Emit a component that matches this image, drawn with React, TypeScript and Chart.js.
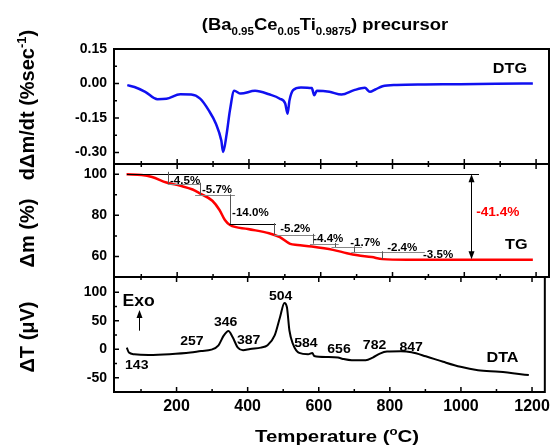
import React, { useEffect, useRef } from "react";
import { Chart, registerables } from "chart.js";
Chart.register(...registerables);

const W = 555;
const H = 448;
const FAMILY = "'Liberation Sans', Arial, Helvetica, sans-serif";

// ---------- shared x axis ----------
const X_MIN = 24;
const X_MAX = 1236;
const xMajor = [200, 400, 600, 800, 1000, 1200];
const xMinor = [100, 300, 500, 700, 900, 1100];

// ---------- DTG panel ----------
const dtgT = [61, 81, 111, 145, 170, 209, 239, 264, 288, 308, 323, 328, 338, 347, 359, 377, 417, 456, 486, 501, 507.5, 513, 523, 545, 575, 582, 589, 624, 658, 693, 723, 737, 752, 772, 812, 890, 989, 1088, 1191];
const dtgV = [-0.007, -0.015, -0.036, -0.068, -0.066, -0.047, -0.048, -0.066, -0.117, -0.175, -0.248, -0.298, -0.218, -0.117, -0.032, -0.044, -0.032, -0.047, -0.066, -0.087, -0.131, -0.073, -0.029, -0.017, -0.02, -0.051, -0.032, -0.036, -0.048, -0.029, -0.019, -0.036, -0.026, -0.012, -0.006, -0.004, -0.003, -0.001, 0];
const dtgTicks = [-0.3, -0.15, 0, 0.15];
const dtgMinor = [-0.225, -0.075, 0.075];

// ---------- TG panel ----------
const tgT = [59, 101, 130, 170, 209, 243, 264, 298, 318, 333, 347, 397, 456, 486, 515, 535, 575, 634, 673, 703, 742, 772, 839, 989, 1191];
const tgV = [100, 99.7, 98.7, 96, 94.4, 92.6, 90.6, 87.1, 82.6, 77.7, 75.3, 73.4, 71.3, 69.4, 66.1, 65.6, 64.8, 63.2, 61.6, 60.6, 59.7, 58.7, 58.4, 58.4, 58.4];
const tgTicks = [60, 80, 100];
const tgMinor = [70, 90];
const stepT = [174, 264, 346, 471, 579, 639, 693, 772];
const stepLoss = [4.5, 5.7, 14.0, 5.2, 4.4, 1.7, 2.4, 3.5];
const stepLineStartT = [174, 250, 346, 471, 570, 630, 685, 772];
const stepLineEndT = [264, 361, 475, 585, 650, 715, 890, 772];
const stepLabelT = [180, 269, 353, 487, 579, 682, 785, 885];
const stepLabelV = [97.1, 92.7, 81.4, 73.9, 68.8, 67.1, 64.4, 61.3];
const totalLossLabel = "-41.4%";

// ---------- DTA panel ----------
const dtaT = [60, 66, 81, 121, 180, 239, 269, 298, 318, 333, 346, 357.5, 372.5, 387, 407, 437, 456, 476, 491, 503.5, 510.5, 517.5, 527, 545, 570, 582, 587, 624, 654, 668, 693, 732, 752, 772, 792, 831, 861, 901, 950, 999, 1048, 1108, 1191];
const dtaV = [2.9, -5.8, -8.7, -9.9, -8.7, -5.8, -2.9, -0.6, 7, 24.4, 32, 21.5, 2.9, -1.7, 0.6, 2.9, 7, 24.4, 56.4, 81.4, 73.8, 33, 9.9, -6.4, -8.7, -6.4, -11.6, -13.4, -14.5, -16.9, -19.2, -19.2, -14.5, -7.6, -4, -3.5, -5.2, -12.2, -22, -30.8, -36.6, -39.5, -45.3];
const dtaTicks = [-50, 0, 50, 100];
const dtaMinor = [-25, 25, 75];
const peakLabels = ["143", "257", "346", "387", "504", "584", "656", "782", "847"];
const peakLabelT = [88, 243, 338, 403, 493, 564, 657, 757, 860];
const peakLabelV = [-27, 16.3, 49.6, 18.4, 94.7, 11.9, 2.3, 9.3, 5.8];

type Seg = { t: string; s?: "sub" | "sup" };
type RichOpts = {
  size: number;
  color?: string;
  align?: "left" | "center" | "right";
  sx?: number;
  rot?: number;
  mid?: boolean;
};

function drawRich(ctx: CanvasRenderingContext2D, segs: Seg[], x: number, y: number, o: RichOpts) {
  const size = o.size;
  const small = Math.round(size * 0.65);
  const fontFor = (s?: string) => `bold ${s ? small : size}px ${FAMILY}`;
  ctx.save();
  ctx.translate(x, y);
  if (o.rot) ctx.rotate(o.rot);
  ctx.scale(o.sx ?? 1, 1);
  let total = 0;
  const widths = segs.map((seg) => {
    ctx.font = fontFor(seg.s);
    const w = ctx.measureText(seg.t).width;
    total += w;
    return w;
  });
  let cx = o.align === "center" ? -total / 2 : o.align === "right" ? -total : 0;
  const base = o.mid ? size * 0.36 : 0;
  ctx.textAlign = "left";
  ctx.textBaseline = "alphabetic";
  ctx.fillStyle = o.color ?? "#000";
  segs.forEach((seg, i) => {
    ctx.font = fontFor(seg.s);
    const dy = seg.s === "sub" ? size * 0.3 : seg.s === "sup" ? -size * 0.42 : 0;
    ctx.fillText(seg.t, cx, base + dy);
    cx += widths[i];
  });
  ctx.restore();
}

function arrowHead(ctx: CanvasRenderingContext2D, x: number, y: number, dir: number) {
  ctx.beginPath();
  ctx.moveTo(x, y);
  ctx.lineTo(x - 3, y - dir * 8);
  ctx.lineTo(x + 3, y - dir * 8);
  ctx.closePath();
  ctx.fill();
}

type PanelCfg = {
  padTop: number;
  padBottom: number;
  xHeight: number;
  showX: boolean;
  topTicks: boolean;
  yMin: number;
  yMax: number;
  yTicks: number[];
  yMinor: number[];
  fmt: (v: number) => string;
  xs: number[];
  ys: number[];
  color: string;
  width: number;
  draw: (chart: any) => void;
};

function makePanel(canvas: HTMLCanvasElement, c: PanelCfg) {
  const points = c.xs.map((x, i) => ({ x, y: c.ys[i] }));
  const frame = {
    id: "frame",
    afterDatasetsDraw(chart: any) {
      const ctx: CanvasRenderingContext2D = chart.ctx;
      const a = chart.chartArea;
      const sx = chart.scales.x;
      const sy = chart.scales.y;
      ctx.save();
      ctx.strokeStyle = "#000";
      ctx.lineWidth = 1.5;
      ctx.beginPath();
      const seg = (x1: number, y1: number, x2: number, y2: number) => {
        ctx.moveTo(x1, y1);
        ctx.lineTo(x2, y2);
      };
      xMajor.forEach((v) => {
        const p = sx.getPixelForValue(v);
        seg(p, a.bottom, p, a.bottom - 5);
        if (c.topTicks) seg(p, a.top, p, a.top + 5);
      });
      xMinor.forEach((v) => {
        const p = sx.getPixelForValue(v);
        seg(p, a.bottom, p, a.bottom - 3);
        if (c.topTicks) seg(p, a.top, p, a.top + 3);
      });
      c.yTicks.forEach((v) => {
        const p = sy.getPixelForValue(v);
        seg(a.left, p, a.left + 5, p);
      });
      c.yMinor.forEach((v) => {
        const p = sy.getPixelForValue(v);
        seg(a.left, p, a.left + 3, p);
      });
      ctx.stroke();
      ctx.lineWidth = 2;
      ctx.strokeRect(a.left, a.top, a.right - a.left, a.bottom - a.top);
      ctx.restore();
      ctx.save();
      c.draw(chart);
      ctx.restore();
    },
  };
  const tickFont = { family: FAMILY, weight: "bold" as const, size: 14 };
  return new Chart(canvas, {
    type: "line",
    data: {
      datasets: [
        {
          data: points,
          borderColor: c.color,
          borderWidth: c.width,
          pointRadius: 0,
          fill: false,
          cubicInterpolationMode: "monotone",
        },
      ],
    },
    options: {
      animation: false,
      responsive: false,
      events: [],
      layout: { padding: { top: c.padTop, bottom: c.padBottom, left: 0, right: 6 }, autoPadding: false },
      plugins: { legend: { display: false }, tooltip: { enabled: false }, title: { display: false } },
      scales: {
        x: {
          type: "linear",
          min: X_MIN,
          max: X_MAX,
          grid: { display: false, drawTicks: false },
          border: { display: false },
          ticks: {
            display: c.showX,
            color: "#000",
            padding: 5,
            font: { family: FAMILY, weight: "bold", size: 16 },
            callback: (v: any) => String(Math.round(Number(v))),
          },
          afterBuildTicks: (s: any) => {
            s.ticks = xMajor.map((v) => ({ value: v }));
          },
          afterFit: (s: any) => {
            s.height = c.xHeight;
          },
        },
        y: {
          type: "linear",
          min: c.yMin,
          max: c.yMax,
          grid: { display: false, drawTicks: false },
          border: { display: false },
          ticks: {
            color: "#000",
            padding: 7,
            font: tickFont,
            callback: (v: any) => c.fmt(Number(v)),
          },
          afterBuildTicks: (s: any) => {
            s.ticks = c.yTicks.map((v) => ({ value: v }));
          },
          afterFit: (s: any) => {
            s.width = 114;
          },
        },
      },
    },
    plugins: [frame as any],
  });
}

function px(chart: any, x: number, y: number) {
  return [chart.scales.x.getPixelForValue(x), chart.scales.y.getPixelForValue(y)];
}

export default function App() {
  const r1 = useRef<HTMLCanvasElement>(null);
  const r2 = useRef<HTMLCanvasElement>(null);
  const r3 = useRef<HTMLCanvasElement>(null);

  useEffect(() => {
    const c1 = makePanel(r1.current!, {
      padTop: 49,
      padBottom: H - 164,
      xHeight: 0,
      showX: false,
      topTicks: false,
      yMin: -0.35,
      yMax: 0.15,
      yTicks: dtgTicks,
      yMinor: dtgMinor,
      fmt: (v) => (Math.abs(v) < 1e-9 ? "0.00" : v.toFixed(2)),
      xs: dtgT,
      ys: dtgV,
      color: "#1010f0",
      width: 2.5,
      draw: (chart) => {
        const ctx: CanvasRenderingContext2D = chart.ctx;
        const [x, y] = px(chart, 1127, 0.069);
        drawRich(ctx, [{ t: "DTG" }], x, y, { size: 15, align: "center", mid: true, sx: 1.08 });
        // figure title and axis titles
        drawRich(
          ctx,
          [
            { t: "(Ba" },
            { t: "0.95", s: "sub" },
            { t: "Ce" },
            { t: "0.05", s: "sub" },
            { t: "Ti" },
            { t: "0.9875", s: "sub" },
            { t: ") precursor" },
          ],
          325,
          30,
          { size: 16, align: "center", sx: 1.15 }
        );
        drawRich(
          ctx,
          [{ t: "d\u0394m/dt (%sec" }, { t: "-1", s: "sup" }, { t: ")" }],
          27,
          105,
          { size: 20, align: "center", rot: -Math.PI / 2, mid: true }
        );
        drawRich(ctx, [{ t: "\u0394m (%)" }], 27, 233, { size: 20, align: "center", rot: -Math.PI / 2, mid: true });
        drawRich(ctx, [{ t: "\u0394T (\u03bcV)" }], 27, 337, { size: 20, align: "center", rot: -Math.PI / 2, mid: true });
        drawRich(ctx, [{ t: "Temperature (" }, { t: "o", s: "sup" }, { t: "C)" }], 337, 442, {
          size: 17,
          align: "center",
          sx: 1.2,
        });
      },
    });

    const c2 = makePanel(r2.current!, {
      padTop: 164,
      padBottom: H - 277,
      xHeight: 0,
      showX: false,
      topTicks: true,
      yMin: 50,
      yMax: 105,
      yTicks: tgTicks,
      yMinor: tgMinor,
      fmt: (v) => String(Math.round(v)),
      xs: tgT,
      ys: tgV,
      color: "#ff0000",
      width: 2.5,
      draw: (chart) => {
        const ctx: CanvasRenderingContext2D = chart.ctx;
        const levels: number[] = [100];
        stepLoss.forEach((l) => levels.push(Math.round((levels[levels.length - 1] - l) * 10) / 10));
        ctx.lineWidth = 1;
        // 100 % reference line
        ctx.strokeStyle = "#000";
        ctx.beginPath();
        const [a1, b1] = px(chart, 60, 100);
        const [a2] = px(chart, 1041, 100);
        ctx.moveTo(a1, Math.round(b1) + 0.5);
        ctx.lineTo(a2, Math.round(b1) + 0.5);
        ctx.stroke();
        // step lines
        stepT.forEach((t, k) => {
          const [vx, vy1] = px(chart, t, levels[k] + (k === 0 ? 1.2 : 0.4));
          const [, vy2] = px(chart, t, levels[k + 1]);
          ctx.strokeStyle = "#555";
          ctx.beginPath();
          ctx.moveTo(Math.round(vx) + 0.5, vy1);
          ctx.lineTo(Math.round(vx) + 0.5, vy2);
          ctx.stroke();
          if (k < stepT.length - 1) {
            const [hx1, hy] = px(chart, stepLineStartT[k], levels[k + 1]);
            const [hx2] = px(chart, stepLineEndT[k], levels[k + 1]);
            ctx.strokeStyle = k === 2 ? "#000" : "#888";
            ctx.beginPath();
            ctx.moveTo(hx1, Math.round(hy) + 0.5);
            ctx.lineTo(hx2, Math.round(hy) + 0.5);
            ctx.stroke();
          }
        });
        // labels
        stepLoss.forEach((l, k) => {
          const [x, y] = px(chart, stepLabelT[k], stepLabelV[k]);
          drawRich(ctx, [{ t: "-" + l.toFixed(1) + "%" }], x, y, { size: 11, align: "left", mid: true, sx: 1.05 });
        });
        // total loss arrow
        const last = levels[levels.length - 1];
        const [ax, ay1] = px(chart, 1019, 100);
        const [, ay2] = px(chart, 1019, last);
        ctx.strokeStyle = "#000";
        ctx.fillStyle = "#000";
        ctx.beginPath();
        ctx.moveTo(Math.round(ax) + 0.5, ay1 + 6);
        ctx.lineTo(Math.round(ax) + 0.5, ay2 - 6);
        ctx.stroke();
        arrowHead(ctx, Math.round(ax) + 0.5, ay1, -1);
        arrowHead(ctx, Math.round(ax) + 0.5, ay2, 1);
        const [tx, ty] = px(chart, 1033, 82.1);
        drawRich(ctx, [{ t: totalLossLabel }], tx, ty, { size: 13, align: "left", mid: true, color: "#ff0000", sx: 1.05 });
        const [gx, gy] = px(chart, 1145, 66.1);
        drawRich(ctx, [{ t: "TG" }], gx, gy, { size: 15, align: "center", mid: true, sx: 1.08 });
      },
    });

    const c3 = makePanel(r3.current!, {
      padTop: 277,
      padBottom: 0,
      xHeight: H - 392,
      showX: true,
      topTicks: true,
      yMin: -75,
      yMax: 127,
      yTicks: dtaTicks,
      yMinor: dtaMinor,
      fmt: (v) => String(Math.round(v)),
      xs: dtaT,
      ys: dtaV,
      color: "#000",
      width: 2,
      draw: (chart) => {
        const ctx: CanvasRenderingContext2D = chart.ctx;
        peakLabels.forEach((lab, i) => {
          const [x, y] = px(chart, peakLabelT[i], peakLabelV[i]);
          drawRich(ctx, [{ t: lab }], x, y, { size: 13, align: "center", mid: true, sx: 1.08 });
        });
        const [ex, ey] = px(chart, 48, 86.6);
        drawRich(ctx, [{ t: "Exo" }], ex, ey, { size: 16, align: "left", mid: true, sx: 1.1 });
        const [arx, ary1] = px(chart, 93, 32.7);
        const [, ary2] = px(chart, 93, 69);
        ctx.strokeStyle = "#000";
        ctx.fillStyle = "#000";
        ctx.lineWidth = 1;
        ctx.beginPath();
        ctx.moveTo(Math.round(arx) + 0.5, ary1);
        ctx.lineTo(Math.round(arx) + 0.5, ary2 + 5);
        ctx.stroke();
        arrowHead(ctx, Math.round(arx) + 0.5, ary2, -1);
        const [dx, dy] = px(chart, 1117, -13.5);
        drawRich(ctx, [{ t: "DTA" }], dx, dy, { size: 15, align: "center", mid: true, sx: 1.08 });
      },
    });

    return () => {
      c1.destroy();
      c2.destroy();
      c3.destroy();
    };
  }, []);

  const cs: React.CSSProperties = { position: "absolute", left: 0, top: 0 };
  return (
    <div style={{ position: "absolute", left: 0, top: 0, width: W, height: H, background: "#fff", overflow: "hidden" }}>
      <canvas ref={r1} width={W} height={H} style={cs} />
      <canvas ref={r2} width={W} height={H} style={cs} />
      <canvas ref={r3} width={W} height={H} style={cs} />
    </div>
  );
}
